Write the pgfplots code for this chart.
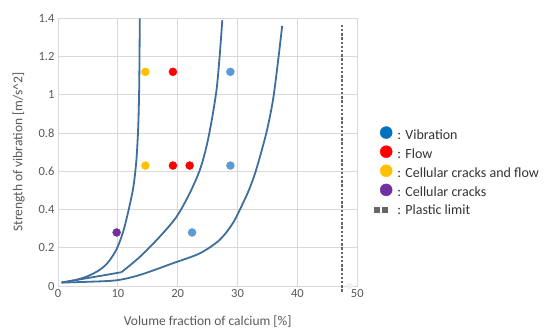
\documentclass[border=0pt]{standalone}
\usepackage{fontspec}
\setmainfont{Carlito}
\usepackage{pgfplots}
\pgfplotsset{compat=1.18}
\definecolor{curvec}{HTML}{3E6E9C}
\definecolor{gridc}{HTML}{D9D9D9}
\definecolor{tickc}{HTML}{595959}
\definecolor{ptblue}{HTML}{5B9BD5}
\definecolor{legblue}{HTML}{0070C0}
\definecolor{ptred}{HTML}{FF0000}
\definecolor{ptorange}{HTML}{FFC000}
\definecolor{ptpurple}{HTML}{7030A0}
\definecolor{plastc}{HTML}{666666}
\begin{document}
\begin{tikzpicture}
\path[use as bounding box] (-58pt,-43pt) rectangle (490pt,286pt);
\begin{axis}[
  scale only axis, width=299.3pt, height=267.7pt,
  xmin=0, xmax=50, ymin=0, ymax=1.4,
  xtick={0,10,20,30,40,50},
  ytick={0,0.2,0.4,0.6,0.8,1,1.2,1.4},
  grid=major, grid style={draw=gridc, line width=0.8pt},
  axis line style={draw=gridc, line width=0.8pt},
  major tick length=0pt,
  tick label style={font=\fontsize{12.5}{14}\selectfont, text=tickc},
  /pgf/number format/assume math mode=true,
  xlabel={Volume fraction of calcium [\%]},
  ylabel={Strength of vibration [m/s\^{}2]},
  label style={font=\fontsize{13.5}{15}\selectfont, text=tickc},
  xlabel style={yshift=-11pt},
  ylabel style={yshift=7pt},
  clip=false,
  legend style={at={(rel axis cs:1.0525,0.597)}, anchor=north west,
    draw=none, fill=none, inner sep=0pt,
    font=\fontsize{14}{16}\selectfont, text=black!80,
    row sep=2.9pt, column sep=3pt},
  legend cell align=left,
]
% curves
\addplot[curvec, line width=1.8pt, smooth, forget plot] coordinates {
 (0.6,0.018) (3,0.032) (5,0.052) (7,0.085) (8.4,0.125) (9.75,0.19) (10.85,0.28)
 (11.8,0.398) (12.6,0.52) (13.1,0.66) (13.4,0.83) (13.55,1.01) (13.62,1.2) (13.66,1.4)};
\addplot[curvec, line width=1.8pt, forget plot] coordinates {(0.6,0.018) (10.6,0.072)};
\addplot[curvec, line width=1.8pt, smooth, forget plot] coordinates {
 (10.6,0.072) (13.7,0.153) (17.0,0.258) (19.8,0.362) (22.0,0.485) (23.7,0.607)
 (24.8,0.729) (25.7,0.87) (26.5,1.03) (27.0,1.2) (27.45,1.39)};
\addplot[curvec, line width=1.8pt, smooth, forget plot] coordinates {
 (0.6,0.018) (5,0.022) (9.8,0.03) (13.7,0.058) (19.2,0.119) (23.7,0.171)
 (27.0,0.241) (29.2,0.328) (30.9,0.433) (32.0,0.51) (33.1,0.607)
 (34.8,0.80) (35.9,0.97) (36.7,1.16) (37.45,1.36)};
% plastic limit
\addplot[plastc, line width=2.4pt, dash pattern=on 2.4pt off 1.8pt, forget plot] coordinates {(47.4,-0.03) (47.4,1.37)};
\addplot[only marks, mark=*, mark size=3pt, gray!12, forget plot] coordinates {(48.7,0)};
% points
\addplot[only marks, mark=*, mark size=4pt, ptblue, forget plot] coordinates {(28.8,1.12) (28.8,0.63) (22.4,0.28)};
\addplot[only marks, mark=*, mark size=4pt, ptred, forget plot] coordinates {(19.2,1.12) (19.2,0.63) (22.0,0.63)};
\addplot[only marks, mark=*, mark size=4pt, ptorange, forget plot] coordinates {(14.6,1.12) (14.6,0.63)};
\addplot[only marks, mark=*, mark size=4pt, ptpurple, forget plot] coordinates {(9.8,0.28)};
% legend
\addlegendimage{legend image code/.code={\path[draw=none] (0pt,0pt) -- (18.5pt,0pt); \fill[legblue] (13pt,0.5ex) circle (6pt);}}
\addlegendentry{: Vibration}
\addlegendimage{legend image code/.code={\path[draw=none] (0pt,0pt) -- (18.5pt,0pt); \fill[ptred] (13pt,0.5ex) circle (6pt);}}
\addlegendentry{: Flow}
\addlegendimage{legend image code/.code={\path[draw=none] (0pt,0pt) -- (18.5pt,0pt); \fill[ptorange] (13pt,0.5ex) circle (6pt);}}
\addlegendentry{: Cellular cracks and flow}
\addlegendimage{legend image code/.code={\path[draw=none] (0pt,0pt) -- (18.5pt,0pt); \fill[ptpurple] (13pt,0.5ex) circle (6pt);}}
\addlegendentry{: Cellular cracks}
\addlegendimage{legend image code/.code={\path[draw=none] (0pt,0pt) -- (18.5pt,0pt); \fill[plastc] (1pt,-1.75pt) rectangle +(4.5pt,4.5pt); \fill[plastc] (9pt,-1.75pt) rectangle +(4.5pt,4.5pt);}}
\addlegendentry{: Plastic limit}
\end{axis}
\end{tikzpicture}
\end{document}
